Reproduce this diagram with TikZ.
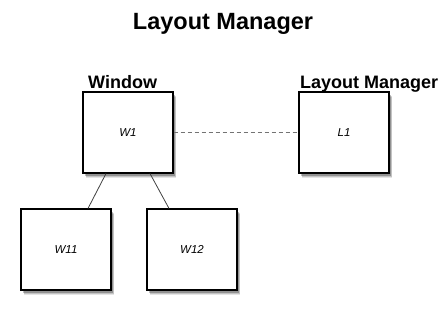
\documentclass[tikz,border=0pt]{standalone}
\usepackage{fontspec}
\setmainfont{Liberation Sans}
\usetikzlibrary{shadows}
\begin{document}
\begin{tikzpicture}[x=1pt,y=-1pt,
  box/.style={draw=black,line width=1.1pt,fill=white,minimum width=90pt,minimum height=81pt,inner sep=0pt,
    font=\fontsize{11.5}{13}\selectfont\itshape,
    drop shadow={shadow xshift=3pt,shadow yshift=-4.5pt,fill=black,opacity=0.10},
    drop shadow={shadow xshift=2.5pt,shadow yshift=-3.5pt,fill=black,opacity=0.15},
    drop shadow={shadow xshift=2pt,shadow yshift=-2.5pt,fill=black,opacity=0.25}},
  lbl/.style={font=\fontsize{18}{20}\selectfont\bfseries,inner sep=0pt},
  conn/.style={draw=black!75,line width=0.8pt},
  dconn/.style={draw=black!55,line width=0.9pt,dash pattern=on 4pt off 3pt}]
\useasboundingbox (0,0) rectangle (447,314);
\node[font=\fontsize{23.5}{26}\selectfont\bfseries,inner sep=0pt,anchor=base] (title) at (223,29) {Layout Manager};
\node[box] (w1) at (128,132.5) {W1};
\node[box] (l1) at (344,132.5) {L1};
\node[box] (w11) at (66,249.5) {W11};
\node[box] (w12) at (192,249.5) {W12};
\node[lbl,anchor=base west] (wl) at (88,88) {Window};
\node[lbl,anchor=base west] (ll) at (300,88) {Layout Manager};
\draw[dconn] (w1.east) -- (l1.west);
\draw[conn] ([xshift=-22pt]w1.south) -- ([xshift=22pt]w11.north);
\draw[conn] ([xshift=22pt]w1.south) -- ([xshift=-23pt]w12.north);
\end{tikzpicture}
\end{document}
